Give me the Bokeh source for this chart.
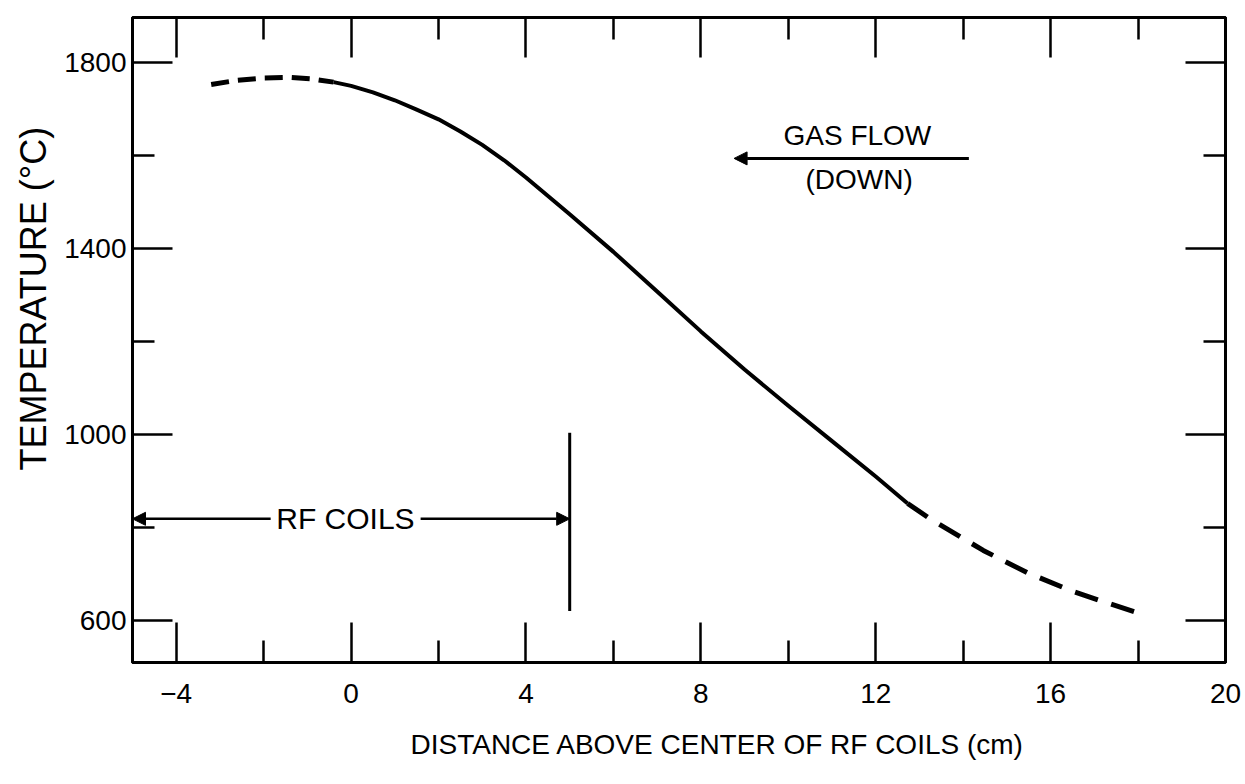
import math
from bokeh.plotting import figure
from bokeh.models import Range1d, FixedTicker, LinearAxis, Arrow, NormalHead, Title
from bokeh.embed import file_html
from bokeh.resources import INLINE
from bokeh.core.properties import value

FONT = "Liberation Sans"

# ---- axes ----
x_range_vals = [-5, 20]
y_range_vals = [510, 1897]
x_major_ticks = [-4, 0, 4, 8, 12, 16, 20]
x_minor_ticks = [-2, 2, 6, 10, 14, 18]
y_major_ticks = [600, 1000, 1400, 1800]
y_minor_ticks = [800, 1200, 1600]
x_title = "DISTANCE ABOVE CENTER OF RF COILS (cm)"
y_title = "TEMPERATURE (°C)"

# ---- temperature profile ----
# extrapolated (dashed) part near the top of the coils
x_left = [-3.2, -2.6, -2.0, -1.4, -0.9, -0.4]
y_left = [1753, 1762, 1767, 1768, 1765, 1758]
# measured (solid) part
x_mid = [-0.4, 0.0, 0.5, 1.0, 1.5, 2.0, 2.5, 3.0, 3.5, 4.0, 5.0, 6.0, 7.0,
         8.0, 9.0, 10.0, 11.0, 12.0, 12.73]
y_mid = [1758, 1750, 1736, 1719, 1699, 1678, 1652, 1623, 1590, 1553, 1474,
         1393, 1308, 1222, 1140, 1062, 986, 910, 852]
# extrapolated (dashed) tail
x_right = [12.73, 13.21, 14.46, 15.47, 16.45, 17.14, 18.06]
y_right = [852, 821, 751, 703, 665, 643, 615]

# ---- annotations ----
rf_coil_edge_x = 5.0
rf_coil_line_y = [621, 1004]
rf_arrow_y = 819
rf_arrow_left = [-1.84, -5.0]     # start, end
rf_arrow_right = [1.59, 5.0]      # start, end
rf_label = "RF COILS"
rf_label_pos = [-0.13, 819]

gas_arrow_x = [14.13, 8.76]       # start, end
gas_arrow_y = 1594
gas_labels = ["GAS FLOW", "(DOWN)"]
gas_label_x = [11.58, 11.62]
gas_label_y = [1643, 1548]

p = figure(width=1245, height=784,
           x_range=Range1d(*x_range_vals), y_range=Range1d(*y_range_vals),
           output_backend="svg", toolbar_location=None,
           min_border_left=132, min_border_right=20,
           min_border_top=17, min_border_bottom=122,
           background_fill_color="white", border_fill_color="white")
p.grid.visible = False
p.outline_line_color = "black"
p.outline_line_width = 3


def style_axis(ax, show_labels):
    ax.axis_line_color = "black"
    ax.axis_line_width = 3
    ax.major_tick_in = 40
    ax.major_tick_out = 0
    ax.minor_tick_in = 22
    ax.minor_tick_out = 0
    ax.major_tick_line_width = 2.5
    ax.minor_tick_line_width = 2.5
    ax.major_tick_line_color = "black"
    ax.minor_tick_line_color = "black"
    ax.major_label_text_font = FONT
    if show_labels:
        ax.major_label_text_font_size = "28px"
        ax.major_label_text_color = "black"
    else:
        ax.major_label_text_font_size = "1px"
        ax.major_label_text_color = None
        ax.major_label_standoff = 0


p.xaxis.ticker = FixedTicker(ticks=x_major_ticks, minor_ticks=x_minor_ticks)
p.yaxis.ticker = FixedTicker(ticks=y_major_ticks, minor_ticks=y_minor_ticks)
style_axis(p.xaxis[0], True)
style_axis(p.yaxis[0], True)
p.xaxis.major_label_standoff = 21
p.yaxis.major_label_standoff = 6

top = LinearAxis(ticker=FixedTicker(ticks=x_major_ticks, minor_ticks=x_minor_ticks))
style_axis(top, False)
p.add_layout(top, "above")
right = LinearAxis(ticker=FixedTicker(ticks=y_major_ticks, minor_ticks=y_minor_ticks))
style_axis(right, False)
p.add_layout(right, "right")

# ---- axis titles (side titles, offset along the frame like the original) ----
p.add_layout(Title(text=y_title, align="left", offset=192, standoff=16,
                   text_font=FONT, text_font_size="36px", text_font_style="normal",
                   text_color="black"), "left")
p.add_layout(Title(text=x_title, align="left", offset=278, standoff=42,
                   text_font=FONT, text_font_size="28px", text_font_style="normal",
                   text_color="black"), "below")

# ---- curve ----
p.line(x_left, y_left, line_color="black", line_width=5, line_dash="18 9")
p.line(x_mid, y_mid, line_color="black", line_width=4, line_join="round")
p.line(x_right, y_right, line_color="black", line_width=5, line_dash="24 14")

# ---- RF coils marker ----
p.segment(x0=[rf_coil_edge_x], y0=[rf_coil_line_y[0]], x1=[rf_coil_edge_x], y1=[rf_coil_line_y[1]],
          line_color="black", line_width=3)
for xs in (rf_arrow_left, rf_arrow_right):
    p.add_layout(Arrow(end=NormalHead(size=13, fill_color="black", line_color="black", line_width=1),
                       x_start=xs[0], y_start=rf_arrow_y, x_end=xs[1], y_end=rf_arrow_y,
                       line_color="black", line_width=2.5))
p.text(x=[rf_label_pos[0]], y=[rf_label_pos[1]], text=[rf_label],
       text_font=value(FONT), text_font_size="30px", text_align="center",
       text_baseline="middle", text_color="black")

# ---- gas flow ----
p.add_layout(Arrow(end=NormalHead(size=13, fill_color="black", line_color="black", line_width=1),
                   x_start=gas_arrow_x[0], y_start=gas_arrow_y, x_end=gas_arrow_x[1], y_end=gas_arrow_y,
                   line_color="black", line_width=3))
p.text(x=gas_label_x, y=gas_label_y, text=gas_labels,
       text_font=value(FONT), text_font_size="28px", text_align="center",
       text_baseline="middle", text_color="black")

open("out.html", "w").write(file_html(p, INLINE))
